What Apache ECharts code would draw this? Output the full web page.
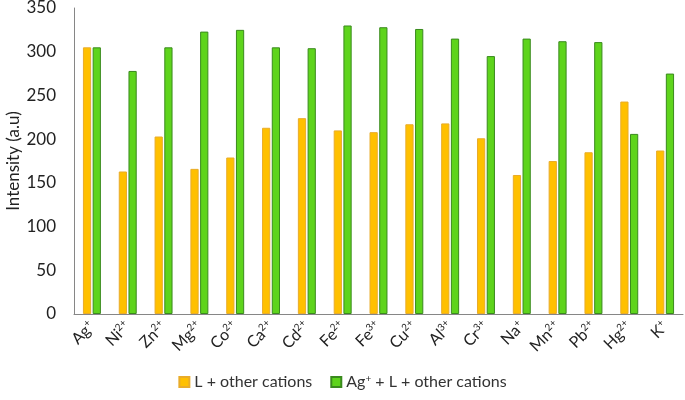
<!DOCTYPE html>
<html>
<head>
<meta charset="utf-8">
<script src="https://cdn.jsdelivr.net/npm/echarts@6/dist/echarts.min.js"></script>
<style>
  html, body { margin: 0; padding: 0; background: #fff; }
  #chart { width: 685px; height: 400px; }
</style>
</head>
<body>
<div id="chart"></div>
<script>
// ion symbol and charge, label is built with rich text
var ions = ['Ag', 'Ni', 'Zn', 'Mg', 'Co', 'Ca', 'Cd', 'Fe', 'Fe', 'Cu', 'Al', 'Cr', 'Na', 'Mn', 'Pb', 'Hg', 'K'];
var charges = ['+', '2+', '2+', '2+', '2+', '2+', '2+', '2+', '3+', '2+', '3+', '3+', '+', '2+', '2+', '2+', '+'];
var categories = ions.map(function (s, i) { return s + charges[i]; });

var seriesNames = ['L + other cations', 'Ag+ + L + other cations'];
var lOther = [305, 163, 203, 166, 179, 213, 224, 210, 208, 217, 218, 201, 159, 175, 185, 243, 187];
var agLOther = [305, 278, 305, 323, 325, 305, 304, 330, 328, 326, 315, 295, 315, 312, 311, 206, 275];

var yTicks = { min: 0, max: 350, interval: 50 };

var chart = echarts.init(document.getElementById('chart'));
var font = 'Lato, "Open Sans", sans-serif';

chart.setOption({
  animation: false,
  grid: { left: 74, right: 2, top: 8, bottom: 86, containLabel: false, outerBoundsMode: 'none' },
  legend: {
    bottom: 5,
    left: 'center',
    itemWidth: 10,
    itemHeight: 10,
    itemGap: 18,
    icon: 'rect',
    textStyle: {
      fontFamily: font, fontSize: 16, color: '#333',
      rich: { sup: { fontSize: 10, fontFamily: font, color: '#333', padding: [0, 0, 7, 0] } }
    },
    formatter: function (name) {
      if (name === seriesNames[1]) return 'Ag{sup|+} + L + other cations';
      return name;
    },
    data: seriesNames
  },
  xAxis: {
    type: 'category',
    data: categories,
    axisLine: { lineStyle: { color: '#868686', width: 1 } },
    axisTick: { show: false },
    axisLabel: {
      interval: 0,
      rotate: 45,
      margin: 10,
      fontFamily: font,
      fontSize: 16,
      color: '#222',
      formatter: function (v, i) {
        return ions[i] + '{sup|' + charges[i] + '}';
      },
      rich: {
        sup: { fontSize: 10, fontFamily: font, color: '#222', padding: [0, 0, 8, 0] }
      }
    }
  },
  yAxis: {
    type: 'value',
    min: yTicks.min,
    max: yTicks.max,
    interval: yTicks.interval,
    name: 'Intensity (a.u)',
    nameLocation: 'middle',
    nameGap: 52,
    nameMoveOverlap: false,
    nameTextStyle: { fontFamily: font, fontSize: 17, color: '#222' },
    axisLine: { show: true, lineStyle: { color: '#868686', width: 1 } },
    axisTick: { show: false },
    splitLine: { show: false },
    axisLabel: { fontFamily: font, fontSize: 17, color: '#222', margin: 18 }
  },
  series: [
    {
      name: seriesNames[0],
      type: 'bar',
      data: lOther,
      barWidth: '23%',
      barGap: '18%',
      itemStyle: { color: '#FFC000', borderColor: '#E9AC2A', borderWidth: 1 }
    },
    {
      name: seriesNames[1],
      type: 'bar',
      data: agLOther,
      barWidth: '23%',
      itemStyle: { color: '#5ED41C', borderColor: '#3A8A1E', borderWidth: 1 }
    }
  ]
});
</script>
</body>
</html>
